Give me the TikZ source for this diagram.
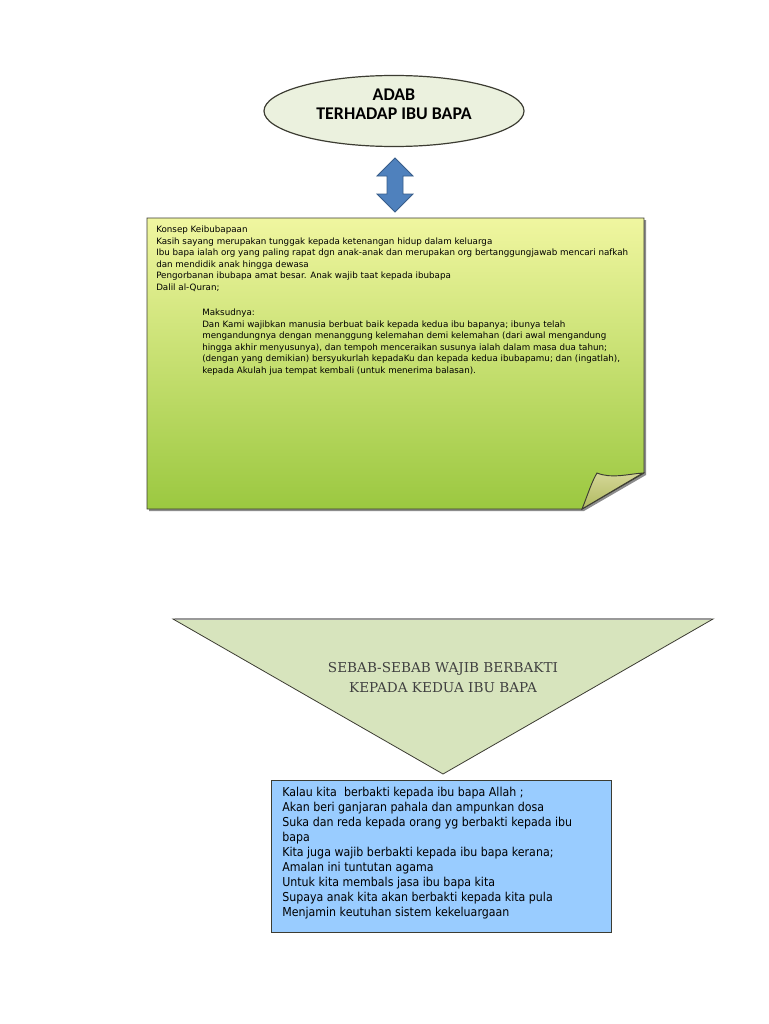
\documentclass[tikz,border=0pt]{standalone}
\usepackage{fontspec}
\setmainfont{Liberation Sans}
\newfontfamily\calib{Carlito}
\newfontfamily\slab{DejaVu Serif}
\newfontfamily\verd{DejaVu Sans}
\newfontfamily\tah[FakeStretch=0.9]{DejaVu Sans}
\usetikzlibrary{shapes.geometric}
\definecolor{ellfill}{RGB}{235,241,222}
\definecolor{trifill}{RGB}{215,228,189}
\definecolor{bluefill}{RGB}{153,204,255}
\definecolor{arrowfill}{RGB}{79,129,189}
\definecolor{arrowline}{RGB}{56,93,138}
\definecolor{gtop}{RGB}{240,246,160}
\definecolor{gbot}{RGB}{155,200,64}
\definecolor{edge}{RGB}{60,60,50}
\tikzset{
  greentext/.style={anchor=north west, inner sep=0pt, align=left, font=\verd\fontsize{6.55}{8.6}\selectfont, text=black},
  bluetext/.style={anchor=north west, inner sep=0pt, align=left, font=\tah\fontsize{9.2}{11.25}\selectfont, text=black},
}
\begin{document}
\begin{tikzpicture}[x=0.75pt,y=-0.75pt]
\useasboundingbox[fill=white] (0,0) rectangle (768,1024);

% ellipse
\node[ellipse, draw=edge, line width=0.9pt, fill=ellfill, minimum width=195pt, minimum height=53.25pt, inner sep=0pt] (adab) at (394,111) {};
\node[align=center, inner sep=0pt, font=\calib\bfseries\fontsize{13.4}{14.5}\selectfont] (adabtext) at (394,104) {ADAB\\TERHADAP IBU BAPA};

% double arrow
\draw[draw=arrowline, fill=arrowfill, line width=0.6pt]
  (395,158) -- (413,176) -- (403,176) -- (403,194) -- (413,194) -- (395,212)
  -- (377,194) -- (387,194) -- (387,176) -- (377,176) -- cycle;

% green note box
\fill[black!45] (149,220) -- (646,220) -- (646,475) -- (584,511) -- (149,511) -- cycle;
\draw[draw=edge, line width=0.7pt, top color=gtop, bottom color=gbot]
  (147,218) -- (644,218) -- (644,473) -- (582,509) -- (147,509) -- cycle;
\draw[draw=edge, line width=0.7pt, top color={rgb,255:red,212;green,214;blue,150}, bottom color={rgb,255:red,176;green,186;blue,96}]
  (582,509) .. controls (588,494) and (592,481) .. (597,473)
  .. controls (612,479) and (628,474) .. (643,473) -- cycle;

\node[greentext] (konsep) at (156,226) {Konsep Keibubapaan\\
Kasih sayang merupakan tunggak kepada ketenangan hidup dalam keluarga\\
Ibu bapa ialah org yang paling rapat dgn anak-anak dan merupakan org bertanggungjawab mencari nafkah\\
dan mendidik anak hingga dewasa\\
Pengorbanan ibubapa amat besar. Anak wajib taat kepada ibubapa\\
Dalil al-Quran;};

\node[greentext] (maksud) at (202,309) {Maksudnya:\\
Dan Kami wajibkan manusia berbuat baik kepada kedua ibu bapanya; ibunya telah\\
mengandungnya dengan menanggung kelemahan demi kelemahan (dari awal mengandung\\
hingga akhir menyusunya), dan tempoh menceraikan susunya ialah dalam masa dua tahun;\\
(dengan yang demikian) bersyukurlah kepadaKu dan kepada kedua ibubapamu; dan (ingatlah),\\
kepada Akulah jua tempat kembali (untuk menerima balasan).};

% triangle
\draw[draw=edge, line width=0.6pt, fill=trifill] (173,619) -- (713,619) -- (443,774) -- cycle;
\draw[black!40, line width=1.2pt] (175,619) -- (711,619);
\node[align=center, inner sep=0pt, font=\slab\fontsize{10.2}{15}\selectfont, text=black!75] (sebab) at (443,678) {SEBAB-SEBAB WAJIB BERBAKTI\\KEPADA KEDUA IBU BAPA};

% blue box
\node[draw=edge, line width=0.6pt, fill=bluefill, minimum width=255pt, minimum height=114pt, inner sep=0pt, anchor=north west] (blue) at (271,780) {};
\node[bluetext] (bluelist) at (282,787) {Kalau kita\ \ berbakti kepada ibu bapa Allah ;\\
Akan beri ganjaran pahala dan ampunkan dosa\\
Suka dan reda kepada orang yg berbakti kepada ibu\\
bapa\\
Kita juga wajib berbakti kepada ibu bapa kerana;\\
Amalan ini tuntutan agama\\
Untuk kita membals jasa ibu bapa kita\\
Supaya anak kita akan berbakti kepada kita pula\\
Menjamin keutuhan sistem kekeluargaan};
\end{tikzpicture}
\end{document}
